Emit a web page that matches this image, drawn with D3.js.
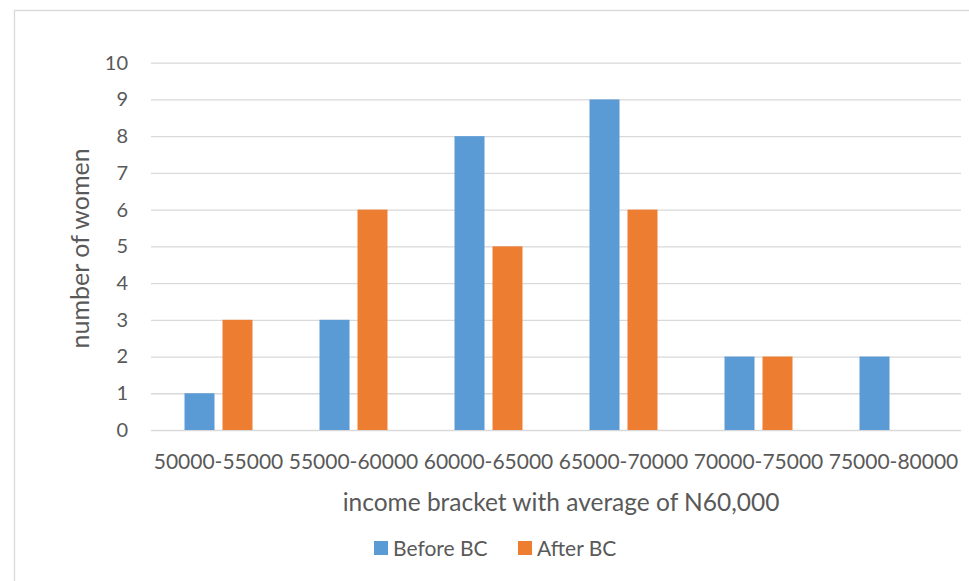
<!DOCTYPE html>
<html><head><meta charset="utf-8">
<script src="https://cdn.jsdelivr.net/npm/d3@7"></script>
<style>body{margin:0;background:#fff}svg{display:block}text{font-family:Lato,"Open Sans",sans-serif;fill:#595959}</style>
</head><body><svg id="c" width="969" height="581"></svg>
<script>
const categories = ["50000-55000","55000-60000","60000-65000","65000-70000","70000-75000","75000-80000"];
const seriesNames = ["Before BC","After BC"];
const beforeBC = [1,3,8,9,2,2];
const afterBC = [3,6,5,6,2,0];
const yTicks = [0,1,2,3,4,5,6,7,8,9,10];
const colors = ["#5B9BD5","#ED7D31"];

const svg = d3.select("#c");
svg.append("rect").attr("x",14.5).attr("y",10.5).attr("width",968).attr("height",600)
  .attr("fill","none").attr("stroke","#D9D9D9").attr("stroke-width",1.3);

const L=151,R=961,T=62.7,B=430;
const x0 = d3.scaleBand().domain(categories).range([L,R]).padding(0);
const x1 = d3.scaleBand().domain(seriesNames).range([0,x0.bandwidth()]).paddingInner(0.2105).paddingOuter(0.882);
const y = d3.scaleLinear().domain([0,10]).range([B,T]);

const yAxis = d3.axisLeft(y).tickValues(yTicks).tickSize(-(R-L)).tickPadding(23);
const gy = svg.append("g").attr("transform",`translate(${L},0)`).call(yAxis);
gy.select(".domain").remove();
gy.selectAll(".tick line").attr("stroke","#D9D9D9").attr("stroke-width",1.3);
gy.selectAll(".tick text").attr("font-size",20).attr("fill","#595959").style("font-family","Lato");

const data = categories.map((c,i)=>({c, vals:[beforeBC[i],afterBC[i]]}));
const g = svg.append("g");
data.forEach(d=>{
  d.vals.forEach((v,j)=>{
    if(v<=0) return;
    g.append("rect").attr("x",x0(d.c)+x1(seriesNames[j])).attr("width",x1.bandwidth())
      .attr("y",y(v)).attr("height",y(0)-y(v)).attr("fill",colors[j]);
  });
});

const xAxis = d3.axisBottom(x0).tickSize(0).tickPadding(24);
const gx = svg.append("g").attr("transform",`translate(0,${B})`).call(xAxis);
gx.select(".domain").remove();
gx.selectAll(".tick text").attr("font-size",21).attr("fill","#595959").style("font-family","Lato");

svg.append("text").attr("x",(L+R)/2 + 5).attr("y",511).attr("text-anchor","middle")
  .attr("font-size",24.5).text("income bracket with average of N60,000");
svg.append("text").attr("transform",`translate(89,${(T+B)/2 + 2}) rotate(-90)`).attr("text-anchor","middle")
  .attr("font-size",25).text("number of women");

const leg = svg.append("g");
const legX=[374,518];
seriesNames.forEach((s,i)=>{
  leg.append("rect").attr("x",legX[i]).attr("y",541).attr("width",14).attr("height",14).attr("fill",colors[i]);
  leg.append("text").attr("x",legX[i]+19).attr("y",556).attr("font-size",21).text(s);
});
</script></body></html>
